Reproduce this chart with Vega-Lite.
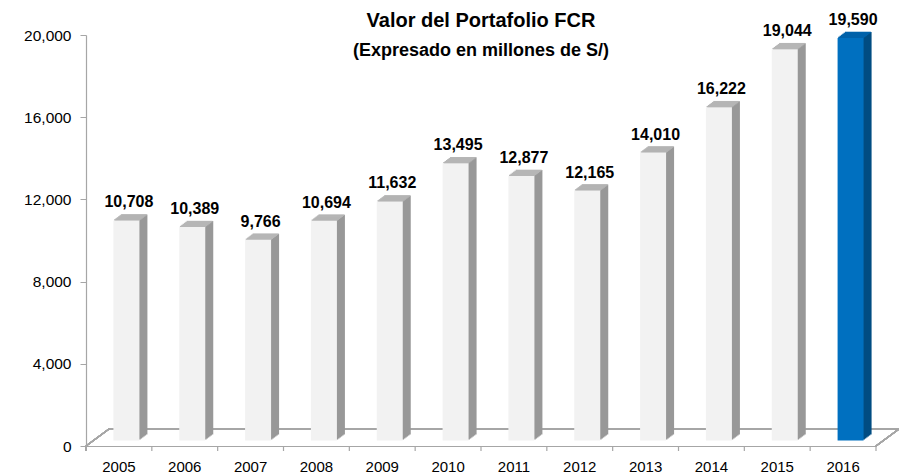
{
  "$schema": "https://vega.github.io/schema/vega-lite/v6.json",
  "width": 790,
  "height": 411,
  "autosize": "none",
  "padding": {"left": 86, "top": 35, "right": 23, "bottom": 30},
  "background": "white",
  "config": {
    "view": {"stroke": null},
    "font": "Liberation Sans",
    "axisX": {"labelAngle": 0, "labelFont": "Liberation Sans", "labelFontSize": 15, "labelColor": "#000000", "domainColor": "#A6A6A6", "domainWidth": 1.2, "ticks": false, "labelPadding": 13, "grid": false},
    "axisY": {"labelFont": "Liberation Sans", "labelFontSize": 15.5, "labelColor": "#000000", "domainColor": "#A6A6A6", "domainWidth": 1.2, "tickColor": "#A6A6A6", "tickSize": 6, "labelPadding": 9, "grid": false}
  },
  "title": {
    "text": "Valor del Portafolio FCR",
    "subtitle": "(Expresado en millones de S/)",
    "anchor": "middle",
    "font": "Liberation Sans",
    "subtitleFont": "Liberation Sans",
    "fontSize": 20,
    "subtitleFontSize": 18,
    "fontWeight": "bold",
    "subtitleFontWeight": "bold",
    "color": "#000000",
    "subtitleColor": "#000000",
    "offset": -48,
    "subtitlePadding": 11
  },
  "data": {
    "values": [
      {"year": "2005", "value": 10708},
      {"year": "2006", "value": 10389},
      {"year": "2007", "value": 9766},
      {"year": "2008", "value": 10694},
      {"year": "2009", "value": 11632},
      {"year": "2010", "value": 13495},
      {"year": "2011", "value": 12877},
      {"year": "2012", "value": 12165},
      {"year": "2013", "value": 14010},
      {"year": "2014", "value": 16222},
      {"year": "2015", "value": 19044},
      {"year": "2016", "value": 19590}
    ]
  },
  "encoding": {
    "x": {
      "field": "year",
      "type": "ordinal",
      "title": null,
      "scale": {"paddingInner": 0, "paddingOuter": 0},
      "axis": {"labelAngle": 0, "bandPosition": 0.5}
    },
    "y": {
      "field": "value",
      "type": "quantitative",
      "title": null,
      "scale": {"domain": [0, 20000], "nice": false},
      "axis": {"values": [0, 4000, 8000, 12000, 16000, 20000], "labelExpr": "format(datum.value, ',')"}
    }
  },
  "layer": [
    {
      "mark": {"type": "rule", "color": "#A6A6A6", "strokeWidth": 1.2, "xOffset": 23, "x2Offset": 23, "yOffset": -17},
      "encoding": {
        "x": {"datum": "2005", "type": "ordinal", "bandPosition": 0, "title": null, "axis": {"labelAngle": 0, "bandPosition": 0.5}},
        "x2": {"datum": "2016", "bandPosition": 1},
        "y": {"datum": 0, "type": "quantitative", "title": null, "axis": {"values": [0, 4000, 8000, 12000, 16000, 20000], "labelExpr": "format(datum.value, ',')"}}
      }
    },
    {
      "mark": {"type": "rule", "color": "#A6A6A6", "strokeWidth": 1.2, "x2Offset": 23, "y2Offset": -17},
      "encoding": {
        "x": {"datum": "2005", "type": "ordinal", "bandPosition": 0, "title": null, "axis": {"labelAngle": 0, "bandPosition": 0.5}},
        "x2": {"datum": "2005", "bandPosition": 0},
        "y": {"datum": 0, "type": "quantitative", "title": null, "axis": {"values": [0, 4000, 8000, 12000, 16000, 20000], "labelExpr": "format(datum.value, ',')"}},
        "y2": {"datum": 0}
      }
    },
    {
      "mark": {"type": "rule", "color": "#A6A6A6", "strokeWidth": 1.2, "x2Offset": 23, "y2Offset": -17},
      "encoding": {
        "x": {"datum": "2016", "type": "ordinal", "bandPosition": 1, "title": null, "axis": {"labelAngle": 0, "bandPosition": 0.5}},
        "x2": {"datum": "2016", "bandPosition": 1},
        "y": {"datum": 0, "type": "quantitative", "title": null, "axis": {"values": [0, 4000, 8000, 12000, 16000, 20000], "labelExpr": "format(datum.value, ',')"}},
        "y2": {"datum": 0}
      }
    },
    {
      "mark": {"type": "rule", "color": "#A6A6A6", "strokeWidth": 1.2, "y2Offset": 5},
      "encoding": {
        "x": {"field": "year", "type": "ordinal", "bandPosition": 1, "title": null, "axis": {"labelAngle": 0, "bandPosition": 0.5}},
        "y": {"datum": 0, "type": "quantitative", "title": null, "axis": {"values": [0, 4000, 8000, 12000, 16000, 20000], "labelExpr": "format(datum.value, ',')"}},
        "y2": {"datum": 0}
      }
    },
    {
      "mark": {"type": "rule", "color": "#A6A6A6", "strokeWidth": 1.2, "y2Offset": 5},
      "encoding": {
        "x": {"datum": "2005", "type": "ordinal", "bandPosition": 0, "title": null, "axis": {"labelAngle": 0, "bandPosition": 0.5}},
        "y": {"datum": 0, "type": "quantitative", "title": null, "axis": {"values": [0, 4000, 8000, 12000, 16000, 20000], "labelExpr": "format(datum.value, ',')"}},
        "y2": {"datum": 0}
      }
    },
    {"mark": {"type": "bar", "width": 26, "xOffset": 8.83, "x2Offset": 8.83, "yOffset": -6.5, "y2Offset": -6.5},
     "encoding": {"color": {"condition": {"test": "datum.year === '2016'", "value": "#004C82"}, "value": "#989898"}}},
    {"mark": {"type": "bar", "width": 26, "xOffset": 10.17, "x2Offset": 10.17, "yOffset": -7.5, "y2Offset": -7.5},
     "encoding": {"color": {"condition": {"test": "datum.year === '2016'", "value": "#004C82"}, "value": "#989898"}}},
    {"mark": {"type": "bar", "width": 26, "xOffset": 11.5, "x2Offset": 11.5, "yOffset": -8.5, "y2Offset": -8.5},
     "encoding": {"color": {"condition": {"test": "datum.year === '2016'", "value": "#004C82"}, "value": "#989898"}}},
    {"mark": {"type": "bar", "width": 26, "xOffset": 12.83, "x2Offset": 12.83, "yOffset": -9.5, "y2Offset": -9.5},
     "encoding": {"color": {"condition": {"test": "datum.year === '2016'", "value": "#004C82"}, "value": "#989898"}}},
    {"mark": {"type": "bar", "width": 26, "xOffset": 14.17, "x2Offset": 14.17, "yOffset": -10.5, "y2Offset": -10.5},
     "encoding": {"color": {"condition": {"test": "datum.year === '2016'", "value": "#004C82"}, "value": "#989898"}}},
    {"mark": {"type": "bar", "width": 26, "xOffset": 15.5, "x2Offset": 15.5, "yOffset": -11.5, "y2Offset": -11.5},
     "encoding": {"color": {"condition": {"test": "datum.year === '2016'", "value": "#004C82"}, "value": "#989898"}}},
    {"mark": {"type": "tick", "orient": "horizontal", "size": 26, "thickness": 1.4, "opacity": 1, "xOffset": 8.17, "yOffset": -6},
     "encoding": {"color": {"condition": {"test": "datum.year === '2016'", "value": "#0062AA"}, "value": "#B6B6B6"}}},
    {"mark": {"type": "tick", "orient": "horizontal", "size": 26, "thickness": 1.4, "opacity": 1, "xOffset": 9.5, "yOffset": -7},
     "encoding": {"color": {"condition": {"test": "datum.year === '2016'", "value": "#0062AA"}, "value": "#B6B6B6"}}},
    {"mark": {"type": "tick", "orient": "horizontal", "size": 26, "thickness": 1.4, "opacity": 1, "xOffset": 10.83, "yOffset": -8},
     "encoding": {"color": {"condition": {"test": "datum.year === '2016'", "value": "#0062AA"}, "value": "#B6B6B6"}}},
    {"mark": {"type": "tick", "orient": "horizontal", "size": 26, "thickness": 1.4, "opacity": 1, "xOffset": 12.17, "yOffset": -9},
     "encoding": {"color": {"condition": {"test": "datum.year === '2016'", "value": "#0062AA"}, "value": "#B6B6B6"}}},
    {"mark": {"type": "tick", "orient": "horizontal", "size": 26, "thickness": 1.4, "opacity": 1, "xOffset": 13.5, "yOffset": -10},
     "encoding": {"color": {"condition": {"test": "datum.year === '2016'", "value": "#0062AA"}, "value": "#B6B6B6"}}},
    {"mark": {"type": "tick", "orient": "horizontal", "size": 26, "thickness": 1.4, "opacity": 1, "xOffset": 14.83, "yOffset": -11},
     "encoding": {"color": {"condition": {"test": "datum.year === '2016'", "value": "#0062AA"}, "value": "#B6B6B6"}}},
    {"mark": {"type": "bar", "width": 26, "xOffset": 7.5, "x2Offset": 7.5, "yOffset": -5.5, "y2Offset": -5.5},
     "encoding": {"color": {"condition": {"test": "datum.year === '2016'", "value": "#0070C0"}, "value": "#F2F2F2"}}},
    {"mark": {"type": "text", "font": "Liberation Sans", "fontWeight": "bold", "fontSize": 16, "color": "#000000", "baseline": "alphabetic", "align": "center", "xOffset": 10, "yOffset": -18.5},
     "encoding": {"text": {"field": "value", "type": "quantitative", "format": ","}}}
  ]
}
